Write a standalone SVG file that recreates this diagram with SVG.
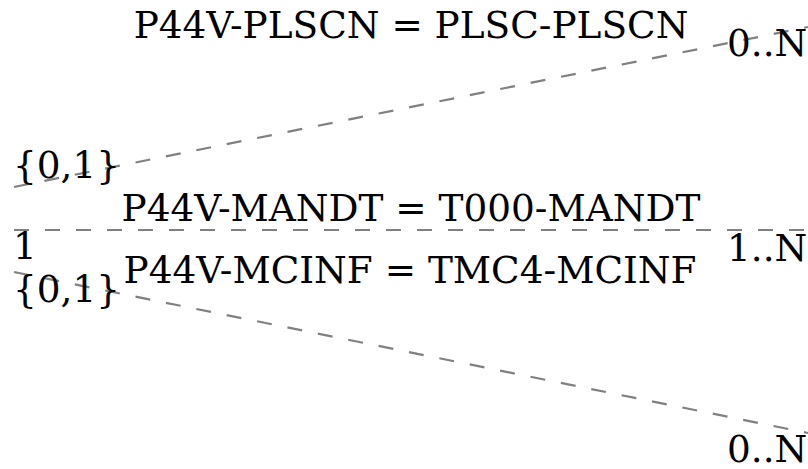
<svg xmlns="http://www.w3.org/2000/svg" width="808" height="469" viewBox="0 0 808 469">
<style>
text{font-family:"DejaVu Serif",serif;font-size:37.4px;fill:#000}
.c{stroke:#808080;stroke-width:2.2;stroke-dasharray:15,16;fill:none}
.m{text-anchor:middle}
</style>
<rect width="808" height="469" fill="#fff"/>
<g id="connectors">
<line class="c" x1="14" y1="187" x2="808" y2="27"/>
<line class="c" x1="14" y1="230" x2="808" y2="230"/>
<line class="c" x1="14" y1="272" x2="808" y2="433"/>
</g>
<g id="edge1-labels">
<text class="m" x="411" y="38">P44V-PLSCN = PLSC-PLSCN</text>
<text x="13" y="178">{0,1}</text>
<text x="727" y="56">0..N</text>
</g>
<g id="edge2-labels">
<text class="m" x="411" y="221">P44V-MANDT = T000-MANDT</text>
<text x="13" y="259">1</text>
<text x="727" y="261">1..N</text>
</g>
<g id="edge3-labels">
<text class="m" x="410" y="283">P44V-MCINF = TMC4-MCINF</text>
<text x="13" y="302">{0,1}</text>
<text x="727" y="462">0..N</text>
</g>
</svg>
